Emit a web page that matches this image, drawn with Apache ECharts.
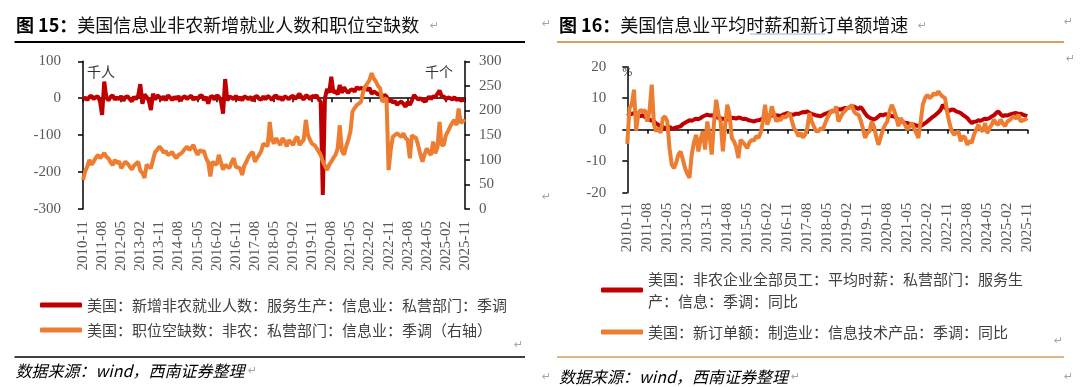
<!DOCTYPE html>
<html><head><meta charset="utf-8">
<script src="https://cdn.jsdelivr.net/npm/echarts@6/dist/echarts.min.js"></script>
<style>html,body{margin:0;padding:0;background:#fff}#c{width:1080px;height:387px}</style>
</head><body><div id="c"></div>
<script>
// ---------- categories (monthly, 2010-11 .. 2025-11) ----------
const startYear = 2010, startMonth = 11, monthCount = 181;
const months = [];
for (let k = 0; k < monthCount; k++) {
  const m = startMonth - 1 + k;
  const y = startYear + Math.floor(m / 12);
  const mm = (m % 12) + 1;
  months.push(y + '-' + (mm < 10 ? '0' + mm : '' + mm));
}

// ---------- series names ----------
const nameL1 = '美国：新增非农就业人数：服务生产：信息业：私营部门：季调';
const nameL2 = '美国：职位空缺数：非农：私营部门：信息业：季调（右轴）';
const nameR1 = '美国：非农企业全部员工：平均时薪：私营部门：服务生产：信息：季调：同比';
const nameR2 = '美国：新订单额：制造业：信息技术产品：季调：同比';

// ---------- left chart: info-sector nonfarm payroll change (千人) ----------
const infoPayrollChange = [
  -3, 2, -5, 4, 6, -2, 3, 5, -8, -45, 45, 2,
  -6, 4, 8, -4, 2, -3, 6, -7, 3, 5, -2, -9,
  4, -3, 7, 38, -15, 10, 3, -6, -32, 12, -4, 8,
  3, -4, 5, -6, 8, 2, -5, 4, -3, 6, -7, 2,
  5, -2, 3, 7, -4, 2, -3, 6, 8, -5, 4, -15,
  3, 6, -4, 8, 4, -8, -42, 52, -6, 4, 2, -3,
  7, -4, 3, -6, 5, 2, -3, 4, -7, 3, 6, -2,
  -4, 5, -3, 6, 2, -5, 4, 8, -2, 3, -6, 5,
  2, -3, 4, 6, -2, 5, 12, 3, -4, 8, 5, -3,
  6, 4, 8, -2, -10, -262, 0, 25, 15, 58, 15, 20,
  10, 36, 15, 30, 20, 15, 22, 24, 18, 30, 25, 28,
  24, 30, 21, 28, 12, 18, 15, 10, 12, 0, 9, 5,
  -9, -4, -12, -8, -18, -12, -9, -15, -23, -10, -18, -6,
  9, 2, -4, 0, -5, -9, -3, 4, -2, 5, 3, 12,
  21, 6, 5, -3, 2, 0, -4, 3, -5, -2, -6, -5, -4
];
// ---------- left chart: info-sector job openings (千个, right axis) ----------
const infoJobOpenings = [
  59, 76, 86, 100, 90, 96, 104, 110, 103, 108, 114, 106,
  103, 95, 89, 100, 93, 97, 83, 90, 96, 92, 86, 80,
  88, 92, 96, 78, 73, 63, 90, 86, 83, 100, 116, 120,
  127, 122, 114, 118, 110, 112, 116, 108, 103, 110, 112, 116,
  122, 127, 120, 124, 130, 118, 110, 120, 116, 118, 103, 95,
  66, 96, 92, 90, 110, 95, 80, 90, 86, 83, 95, 103,
  86, 84, 83, 69, 88, 96, 106, 112, 116, 96, 104, 110,
  118, 133, 130, 128, 177, 140, 133, 144, 136, 130, 144, 138,
  127, 140, 135, 130, 142, 147, 130, 136, 140, 181, 150, 140,
  132, 130, 124, 117, 110, 96, 88, 79, 90, 96, 104, 110,
  123, 170, 118, 110, 127, 140, 157, 198, 205, 211, 214, 218,
  238, 249, 255, 262, 276, 265, 259, 250, 245, 218, 222, 225,
  79, 120, 147, 150, 154, 150, 146, 154, 144, 140, 103, 150,
  146, 144, 128, 110, 96, 112, 123, 115, 110, 137, 113, 125,
  177, 130, 130, 150, 158, 167, 175, 181, 170, 204, 174, 180, 177
];
// ---------- right chart: info hourly earnings yoy (%) ----------
const infoHourlyEarningsYoy = [
  4.3, 4.8, 5.0, 5.3, 4.9, 4.5, 4.3, 4.6, 4.0, 3.7, 3.2, 2.9,
  2.6, 2.0, 1.5, 1.0, 0.8, 0.6, 0.5, 0.9, 0.4, 0.5, 0.7, 0.9,
  1.1, 1.8, 2.2, 2.6, 3.0, 2.8, 3.2, 3.5, 3.3, 3.7, 4.2, 4.5,
  4.8, 4.5, 4.6, 4.3, 4.0, 3.8, 3.7, 3.4, 3.5, 3.2, 3.4, 3.8,
  3.7, 3.5, 3.9, 3.7, 3.4, 3.5, 3.2, 2.9, 2.8, 2.6, 2.9, 3.0,
  3.2, 3.6, 4.0, 4.3, 4.5, 4.4, 4.8, 4.6, 4.5, 4.3, 4.8, 5.0,
  5.3, 5.0, 4.7, 4.8, 5.1, 5.0, 5.3, 5.6, 5.5, 5.8, 5.3, 5.0,
  4.8, 4.5, 4.4, 4.3, 4.7, 5.0, 5.3, 5.6, 5.8, 6.0, 6.3, 6.5,
  6.4, 6.7, 6.9, 6.9, 7.1, 7.3, 7.4, 7.0, 6.6, 7.2, 6.3, 5.2,
  4.3, 3.8, 3.5, 3.2, 3.6, 4.2, 4.8, 4.5, 4.9, 4.8, 4.5, 4.3,
  4.3, 3.7, 3.1, 2.6, 2.4, 2.2, 2.1, 1.9, 1.7, 1.6, 1.3, 1.2,
  1.1, 1.6, 2.1, 2.6, 3.2, 3.8, 4.3, 4.9, 5.5, 6.3, 7.9, 7.0,
  6.3, 6.0, 6.4, 6.3, 5.8, 5.6, 5.3, 4.7, 4.2, 3.7, 2.8, 2.1,
  2.5, 2.6, 3.0, 2.8, 3.2, 3.5, 3.4, 3.7, 4.2, 4.6, 5.3, 5.8,
  4.9, 4.3, 4.6, 4.5, 4.8, 5.0, 5.2, 5.3, 5.0, 5.1, 4.8, 4.5, 4.3
];
// ---------- right chart: IT products new orders yoy (%) ----------
const itNewOrdersYoy = [
  -4.5, 6.9, 7.9, 12.7, -0.3, 5.3, 6.3, 5.8, 6.2, 2.6, 6.0, 14.3,
  1.6, -0.5, 0.5, -1.0, 3.7, 4.2, 2.6, -5.9, -11.1, -12.2, -10.5, -7.9,
  -6.9, -9.5, -12.2, -14.0, -15.3, -7.9, -4.0, -1.6, -6.9, -3.0, -0.5, -6.3,
  2.6, -2.0, -7.9, 2.0, 9.5, 5.0, 2.6, -6.9, 1.0, 7.9, 5.0, -2.6,
  -3.7, -5.5, -9.0, -3.2, -4.0, -4.8, -5.9, -4.0, -3.2, -3.5, -2.0, -2.6,
  -1.0, 2.5, 7.9, 1.6, 3.5, 7.4, 5.0, 2.6, 3.5, 3.0, 4.3, 3.8,
  4.5, 5.3, 3.0, 0.5, -0.5, -2.1, -1.0, -2.5, -1.6, 0.5, 5.3, 2.6,
  1.0, -0.5, -0.5, 0.5, 0.0, 2.0, 3.7, 5.0, 6.3, 5.5, 7.4, 2.6,
  4.0, 5.3, 6.0, 6.9, 7.0, 7.9, 5.8, 5.0, 4.8, 3.0, 0.5, -2.6,
  -1.0, -0.5, 2.6, 1.0, -2.1, -4.8, -2.5, 0.0, 1.5, 2.6, 5.8, 7.9,
  6.3, 4.0, 1.1, 3.7, 2.5, 1.6, 0.0, 1.0, 2.1, 0.5, -1.0, -2.6,
  2.6, 8.0, 10.0, 11.1, 10.0, 10.6, 11.6, 11.0, 12.2, 11.1, 10.5, 10.0,
  5.3, 2.0, -0.5, -1.6, -1.0, -0.5, -3.7, -2.0, -2.6, -4.8, -3.5, -4.2,
  -1.6, 0.0, 1.6, 0.0, -0.5, 2.1, -1.1, 0.5, 1.6, 3.2, 2.0, 1.6,
  3.2, 2.0, 1.1, 2.6, 3.0, 3.7, 4.3, 3.5, 4.8, 2.6, 3.0, 3.2, 3.7
];

// ---------- axis ranges ----------
const leftYRange = {min: -300, max: 100, interval: 100};
const leftY2Range = {min: 0, max: 300, interval: 50};
const rightYRange = {min: -20, max: 20, interval: 10};

// ---------- styling ----------
const RED = '#C00000', ORANGE = '#ED7D31';
const serif = 'Liberation Serif';
const cjk = 'Noto Sans CJK SC';
const tickColor = '#595959';

function labelAxis(gi, margin) {
  return {
    gridIndex: gi, type: 'category', data: months, boundaryGap: false, position: 'bottom',
    axisLine: {show: false, onZero: false}, axisTick: {show: false},
    axisLabel: {interval: 8, rotate: 90, margin: margin, fontFamily: serif, fontSize: 15, color: tickColor}
  };
}
function zeroAxis(gi, yIdx) {
  return {
    gridIndex: gi, type: 'category', data: months, boundaryGap: false, position: 'bottom',
    axisLine: {show: true, onZero: true, onZeroAxisIndex: yIdx, lineStyle: {color: '#000', width: 1.5}},
    axisTick: {show: true, interval: 8, length: 4, lineStyle: {color: '#000', width: 1.5}},
    axisLabel: {show: false}
  };
}
function valueAxis(gi, pos, range, margin) {
  return {
    gridIndex: gi, type: 'value', position: pos, min: range.min, max: range.max, interval: range.interval,
    splitLine: {show: false},
    axisLine: {show: true, lineStyle: {color: '#000', width: 1.5}},
    axisTick: {show: true, length: 5, lineStyle: {color: '#000', width: 1.5}},
    axisLabel: {margin: margin, fontFamily: serif, fontSize: 15, color: tickColor}
  };
}
const ret = (x, y) => ({type: 'text', x: x, y: y, style: {text: '↵', fontFamily: 'DejaVu Sans', fontSize: 11, fill: '#a6a6a6', verticalAlign: 'middle'}});
const legendBase = {
  orient: 'horizontal', icon: 'roundRect', itemWidth: 42, itemHeight: 5, padding: 0, selectedMode: false,
  textStyle: {fontFamily: cjk, fontSize: 15, color: '#404040', lineHeight: 20}
};

const chart = echarts.init(document.getElementById('c'), null, {renderer: 'canvas'});
chart.setOption({
  animation: false,
  backgroundColor: '#fff',
  grid: [
    {left: 83, top: 61.3, width: 382, height: 147.7},
    {left: 627.3, top: 66.7, width: 400, height: 126}
  ],
  xAxis: [labelAxis(0, 12), zeroAxis(0, 0), labelAxis(1, 10), zeroAxis(1, 2)],
  yAxis: [
    Object.assign(valueAxis(0, 'left', leftYRange, 22), {
      name: '千人', nameLocation: 'end', nameGap: -10,
      nameTextStyle: {fontFamily: cjk, fontSize: 14, color: '#333', align: 'left', verticalAlign: 'middle', padding: [0, 0, 0, 4]}
    }),
    Object.assign(valueAxis(0, 'right', leftY2Range, 14), {
      name: '千个', nameLocation: 'end', nameGap: -10,
      nameTextStyle: {fontFamily: cjk, fontSize: 14, color: '#333', align: 'right', verticalAlign: 'middle', padding: [0, 12, 0, 0]}
    }),
    Object.assign(valueAxis(1, 'left', rightYRange, 21), {
      name: '%', nameLocation: 'end', nameGap: -6,
      nameTextStyle: {fontFamily: serif, fontSize: 12, color: '#333', align: 'center', verticalAlign: 'middle'}
    })
  ],
  legend: [
    Object.assign({}, legendBase, {data: [nameL1], left: 40, top: 295}),
    Object.assign({}, legendBase, {data: [nameL2], left: 40, top: 320}),
    Object.assign({}, legendBase, {data: [nameR1], left: 601, top: 257,
      formatter: n => n.slice(0, 25) + '\n' + n.slice(25),
      textStyle: Object.assign({}, legendBase.textStyle, {lineHeight: 22, padding: [22, 0, 0, 0]})}),
    Object.assign({}, legendBase, {data: [nameR2], left: 601, top: 322})
  ],
  series: [
    {name: nameL1, type: 'line', xAxisIndex: 0, yAxisIndex: 0, data: infoPayrollChange, symbol: 'none',
     lineStyle: {width: 4, color: RED}, itemStyle: {color: RED}, z: 2},
    {name: nameL2, type: 'line', xAxisIndex: 0, yAxisIndex: 1, data: infoJobOpenings, symbol: 'none',
     lineStyle: {width: 4, color: ORANGE}, itemStyle: {color: ORANGE}, z: 3},
    {name: nameR1, type: 'line', xAxisIndex: 2, yAxisIndex: 2, data: infoHourlyEarningsYoy, symbol: 'none',
     lineStyle: {width: 4, color: RED}, itemStyle: {color: RED}, z: 2},
    {name: nameR2, type: 'line', xAxisIndex: 2, yAxisIndex: 2, data: itNewOrdersYoy, symbol: 'none',
     lineStyle: {width: 4, color: ORANGE}, itemStyle: {color: ORANGE}, z: 3}
  ],
  graphic: {elements: [
    // left panel frame
    {type: 'text', x: 16, y: 25, style: {
      text: '{b|图 15：}{n|美国信息业非农新增就业人数和职位空缺数}', verticalAlign: 'middle',
      rich: {b: {fontFamily: cjk, fontWeight: 'bold', fontSize: 18, fill: '#000'},
             n: {fontFamily: cjk, fontSize: 18, fill: '#111'}}}},
    ret(430, 26),
    {type: 'line', shape: {x1: 14.5, y1: 42, x2: 525, y2: 42}, style: {stroke: '#000', lineWidth: 2}},
    ret(514, 345),
    {type: 'line', shape: {x1: 14.5, y1: 357, x2: 525, y2: 357}, style: {stroke: '#000', lineWidth: 1.5}},
    {type: 'text', x: 15.5, y: 371, style: {text: '数据来源：wind，西南证券整理', fontFamily: cjk, fontStyle: 'italic', fontSize: 16, fill: '#000', verticalAlign: 'middle'}},
    ret(248, 371),
    // right panel frame
    ret(542, 24),
    {type: 'text', x: 559, y: 25, style: {
      text: '{b|图 16：}{n|美国信息业平均时薪和新订单额增速}', verticalAlign: 'middle',
      rich: {b: {fontFamily: cjk, fontWeight: 'bold', fontSize: 18, fill: '#000'},
             n: {fontFamily: cjk, fontSize: 18, fill: '#111'}}}},
    ret(918, 26),
    ret(1064, 22),
    {type: 'line', shape: {x1: 750, y1: 34, x2: 825, y2: 34}, style: {stroke: '#9db4e0', lineWidth: 1}},
    {type: 'line', shape: {x1: 557, y1: 42, x2: 1064, y2: 42}, style: {stroke: '#D4A15F', lineWidth: 2}},
    ret(1066, 59),
    ret(542, 197),
    ret(1054, 341),
    {type: 'line', shape: {x1: 557, y1: 357, x2: 1064, y2: 357}, style: {stroke: '#D4A15F', lineWidth: 1.5}},
    ret(542, 377),
    {type: 'text', x: 559, y: 377, style: {text: '数据来源：wind，西南证券整理', fontFamily: cjk, fontStyle: 'italic', fontSize: 16, fill: '#000', verticalAlign: 'middle'}},
    ret(791, 377),
    ret(1064, 377)
  ]}
});
</script>
</body></html>
